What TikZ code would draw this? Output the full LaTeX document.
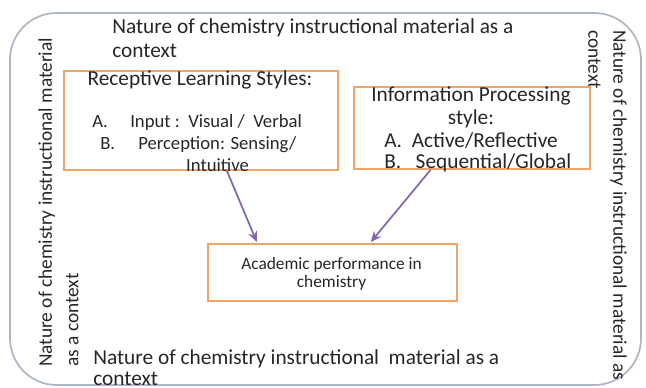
\documentclass[tikz,border=0pt]{standalone}
\usepackage{fontspec}
\setmainfont{Carlito}
\usetikzlibrary{calc,arrows.meta}
\definecolor{outerc}{HTML}{AEB6C4}
\definecolor{boxc}{HTML}{F0A468}
\definecolor{arrc}{HTML}{8266AE}
\definecolor{txtc}{HTML}{262626}
\tikzset{
  boxn/.style={draw=boxc, line width=1.2pt, inner sep=0pt, anchor=north west},
  txt/.style={inner sep=0pt, text=txtc, font=\fontsize{16}{18}\selectfont, align=left},
  vtxt/.style={inner sep=0pt, text=txtc, align=left},
  btxt/.style={inner sep=0pt, text=txtc, font=\fontsize{14}{16}\selectfont},
  arr/.style={draw=arrc, line width=1.3pt, -{Stealth[length=8pt,width=7pt]}}
}
\begin{document}
\begin{tikzpicture}[x=0.75pt,y=-0.75pt]
\useasboundingbox (0,0) rectangle (646,388);
% outer frame
\draw[outerc, line width=1.3pt, rounded corners=35pt] (10,13) rectangle (641,385);
% frame texts
\node[txt, anchor=west] (ttop) at (112,38) {Nature of chemistry instructional material as a\\context};
\node[txt, anchor=west, font=\fontsize{16}{15.5}\selectfont] (tbot) at (93,367.5) {Nature of chemistry instructional\ \ material as a\\context};
\node[vtxt, anchor=west, rotate=90, font=\fontsize{14.5}{20}\selectfont] (tleft) at (58.5,367) {Nature of chemistry instructional material\\as a context};
\node[vtxt, anchor=west, rotate=-90, font=\fontsize{14.5}{18.75}\selectfont] (tright) at (607.5,30) {Nature of chemistry instructional material as\\context};
% boxes
\node[boxn, minimum width=274*0.75pt, minimum height=99*0.75pt] (r1) at (63,70) {};
\node[boxn, minimum width=236*0.75pt, minimum height=82*0.75pt] (r2) at (353,86) {};
\node[boxn, minimum width=249*0.75pt, minimum height=57*0.75pt] (r3) at (207,243) {};
% box 1 text
\node[txt] (r1a) at (200,80) {Receptive Learning Styles:};
\node[btxt, anchor=west] (r1b) at (92,123) {\makebox[28.5pt][l]{A.}Input :\ \ Visual /\ \ Verbal};
\node[btxt, anchor=west] (r1c) at (100,145) {\makebox[28.5pt][l]{B.}Perception: Sensing/};
\node[btxt] (r1d) at (217.5,165) {Intuitive};
% box 2 text
\node[txt] (r2a) at (471,96) {Information Processing};
\node[txt] (r2b) at (471,119) {style:};
\node[txt, anchor=west] (r2c) at (384,141) {A.\ \ Active/Reflective};
\node[txt, anchor=west] (r2d) at (384,163) {B.\ \ \ Sequential/Global};
% box 3 text
\node[inner sep=0pt, text=txtc, font=\fontsize{13}{13.5}\selectfont, align=center] (r3a) at (331.5,274) {Academic performance in\\chemistry};
% arrows
\draw[arr] ($(r1.south)+(26,0)$) -- ($(r3.north)+(-75.5,-1)$);
\draw[arr] ($(r2.south)+(-41,0)$) -- ($(r3.north)+(38.5,-1)$);
\end{tikzpicture}
\end{document}
